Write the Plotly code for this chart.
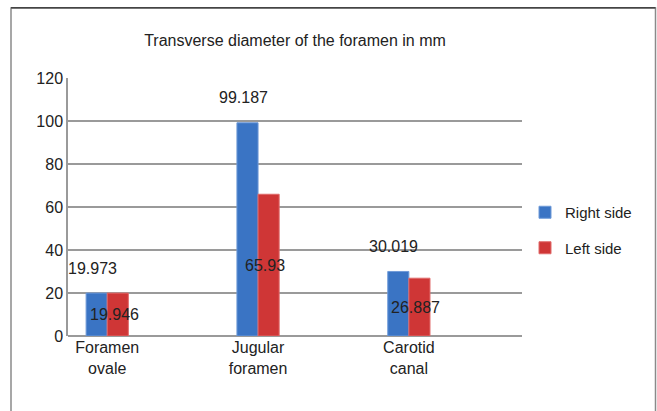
import plotly.graph_objects as go

# data
categories = ["Foramen<br>ovale", "Jugular<br>foramen", "Carotid<br>canal"]
right_side = [19.973, 99.187, 30.019]
left_side = [19.946, 65.93, 26.887]
right_labels = ["19.973", "99.187", "30.019"]
left_labels = ["19.946", "65.93", "26.887"]
y_ticks = [0, 20, 40, 60, 80, 100, 120]

BLUE = "#3a74c4"
RED = "#cf3636"
FONT = "Liberation Sans, Arial, sans-serif"

W, H = 657, 411
L, R, T, B = 68, 135, 78, 75
PW, PH = W - L - R, H - T - B

fig = go.Figure()
fig.add_trace(go.Bar(
    x=categories, y=right_side, name="Right side", legendgroup="r",
    marker=dict(color=BLUE, line=dict(color="#6f9ad8", width=1)),
))
fig.add_trace(go.Bar(
    x=categories, y=left_side, name="Left side", legendgroup="l",
    marker=dict(color=RED, line=dict(color="#e06a6a", width=1)),
))

# labels: right side floats above its bar, left side sits mid-bar
for i, (v, t) in enumerate(zip(right_side, right_labels)):
    fig.add_annotation(x=categories[i], y=v, text=t, showarrow=False,
                       xshift=-15, yshift=25, font=dict(size=16, color="#222"))
for i, (v, t) in enumerate(zip(left_side, left_labels)):
    fig.add_annotation(x=categories[i], y=v / 2, text=t, showarrow=False,
                       xshift=7, yshift=0, font=dict(size=16, color="#222"))

# outer chart frame (pixel edges converted to paper coords)
def px_x(p):
    return (p - L) / PW


def px_y(p):
    return (H - B - p) / PH


fig.add_shape(type="rect", xref="paper", yref="paper",
              x0=px_x(11), x1=px_x(655.5), y0=px_y(430), y1=px_y(8),
              line=dict(color="#8a8a8a", width=1.5), layer="below")
fig.add_shape(type="rect", xref="paper", yref="paper",
              x0=px_x(11), x1=px_x(655.5), y0=px_y(8.5), y1=px_y(7),
              line=dict(width=0), fillcolor="#444", layer="below")

fig.update_layout(
    width=W, height=H,
    margin=dict(l=L, r=R, t=T, b=B, autoexpand=False),
    paper_bgcolor="white", plot_bgcolor="white",
    font=dict(family=FONT, size=16, color="#222"),
    title=dict(text="Transverse diameter of the foramen in mm",
               x=0.5, xref="paper", xanchor="center",
               y=1 - 40 / H, yanchor="middle",
               font=dict(size=16, color="#222")),
    barmode="group", bargap=0.72, bargroupgap=0,
    showlegend=True,
    legend=dict(x=px_x(525), y=px_y(196), xanchor="left", yanchor="top",
                font=dict(size=15), itemwidth=30, tracegroupgap=13,
                traceorder="grouped", bgcolor="rgba(0,0,0,0)"),
)
fig.update_xaxes(range=[-0.26, 2.75], showline=False, ticks="",
                 tickfont=dict(size=16), showgrid=False, automargin=False)
fig.update_yaxes(range=[0, 120], tickvals=y_ticks, showgrid=True,
                 gridcolor="#9a9a9a", gridwidth=1.5,
                 showline=True, linecolor="#9a9a9a", linewidth=1.5,
                 zeroline=True, zerolinecolor="#9a9a9a", zerolinewidth=1.5,
                 ticks="", ticklen=0, tickfont=dict(size=16), automargin=False)

# drop the browser's default body margin so the figure sits at the page corner
fig.write_html("out.html", config={"displayModeBar": False},
               post_script="document.body.style.margin='0';")
